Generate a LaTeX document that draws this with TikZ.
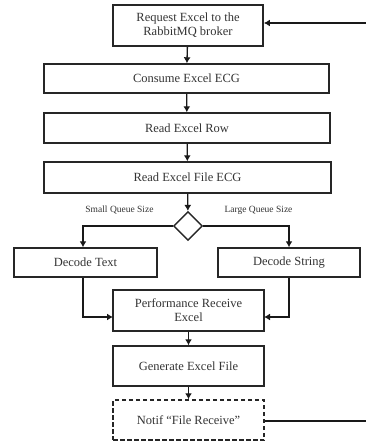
\documentclass[tikz,border=0pt]{standalone}
\usepackage{fontspec}
\setmainfont{Liberation Serif}
\usetikzlibrary{arrows.meta,shapes.geometric,calc}
\begin{document}
\begin{tikzpicture}[x=1pt,y=-1pt,
  box/.style={draw=black!85,line width=1.4pt,rectangle,inner sep=0pt,align=center,
    font=\fontsize{12.5}{14}\selectfont,text=black!80},
  lbl/.style={font=\fontsize{9.5}{11}\selectfont,text=black!80},
  arr/.style={draw=black!90,line width=1.3pt,-{Latex[length=6pt,width=7pt]}},
  ln/.style={draw=black!90,line width=1.3pt}]
\useasboundingbox (0,0) rectangle (366,441);
\node[box,line width=1.8pt,minimum width=150pt,minimum height=41pt] (req) at (188,25.5) {Request Excel to the\\RabbitMQ broker};
\node[box,minimum width=285pt,minimum height=29pt] (cons) at (186.5,78.5) {Consume Excel ECG};
\node[box,minimum width=286pt,minimum height=30pt] (row) at (187,128) {Read Excel Row};
\node[box,minimum width=287pt,minimum height=31pt] (file) at (187.5,177.5) {Read Excel File ECG};
\node[draw=black!85,line width=1.4pt,diamond,minimum width=29pt,minimum height=29pt,inner sep=0pt] (dia) at (188,226) {};
\node[lbl] (small) at (119.5,210) {Small Queue Size};
\node[lbl] (large) at (258.5,210) {Large Queue Size};
\node[box,minimum width=143pt,minimum height=29pt] (dtext) at (85.5,262.5) {Decode Text};
\node[box,minimum width=142pt,minimum height=29pt] (dstr) at (289,262.5) {Decode String};
\node[box,minimum width=151pt,minimum height=41pt] (perf) at (188.5,310.5) {Performance Receive\\Excel};
\node[box,minimum width=151pt,minimum height=40pt] (gen) at (188.5,366) {Generate Excel File};
\node[box,dash pattern=on 4.5pt off 2.5pt,minimum width=151pt,minimum height=40pt] (notif) at (188.5,420) {Notif ``File Receive''};
\coordinate (inR) at (366,23);
\coordinate (outR) at (366,421);
\coordinate (dl) at (83,226);
\coordinate (dr) at (289,226);
\coordinate (pl) at (113,317);
\coordinate (pr) at (264,317);
\draw[arr] (inR) -- (req.east |- inR);
\draw[arr] (req) -- (cons);
\draw[arr] (cons) -- (row);
\draw[arr] (row) -- (file);
\draw[arr] (file) -- (dia);
\draw[arr] (dia.west) -- (dl) -- (dtext.north -| dl);
\draw[arr] (dia.east) -- (dr) -- (dstr.north -| dr);
\draw[arr] (dtext.south -| dl) -- (dl |- pl) -- (pl);
\draw[arr] (dstr.south -| dr) -- (dr |- pr) -- (pr);
\draw[arr] (perf) -- (gen);
\draw[arr] (gen) -- (notif);
\draw[ln] (notif.east |- outR) -- (outR);
\end{tikzpicture}
\end{document}
